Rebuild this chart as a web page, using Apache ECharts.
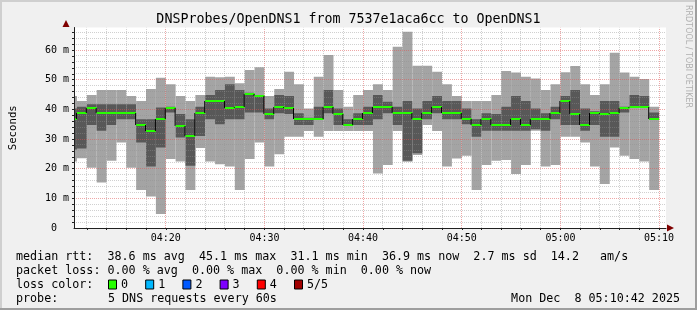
<!DOCTYPE html>
<html><head><meta charset="utf-8">
<script src="https://cdn.jsdelivr.net/npm/echarts@6/dist/echarts.min.js"></script>
<style>html,body{margin:0;padding:0;background:#f0f0f0}#c{width:697px;height:310px}</style>
</head><body><div id="c"></div>
<script>
// minutes after 04:00 at which each 1-minute bin starts
const binStart = [10,11,12,13,14,15,16,17,18,19,20,21,22,23,24,25,26,27,28,29,30,31,32,33,34,35,36,37,38,39,40,41,42,43,44,45,46,47,48,49,50,51,52,53,54,55,56,57,58,59,60,61,62,63,64,65,66,67,68,69];
// sorted pings per bin (ms): fastest .. slowest
const minRtt = [22.4,23.5,20.3,15.3,22.7,28.8,20.3,12.8,10.6,4.7, 23.3,22.4,12.8,27.0,22.4,21.5,20.7,12.8,23.3,28.8, 20.7,24.9,30.8,30.8,32.7,30.8,32.7,32.7,32.7,32.7, 32.7,18.4,21.2,32.7,22.3,24.6,34.7,32.7,20.7,23.4, 24.4,12.8,21.2,22.7,22.9,18.2,21.2,32.8,20.7,21.2, 30.8,30.8,28.8,20.7,14.8,27.1,24.4,23.3,22.4,12.8];
const q1Rtt  = [26.5,26.8,34.7,32.8,34.7,36.7,36.7,28.8,20.7,27.1, 38.9,30.5,21.0,31.0,36.7,35.0,36.7,36.7,38.9,38.9, 36.7,38.7,38.4,34.7,34.7,36.4,38.7,34.7,34.4,34.7, 34.7,36.7,38.7,34.7,22.7,25.2,36.7,38.7,36.7,36.7, 35.0,30.8,32.8,32.8,32.8,32.8,32.8,33.3,32.8,36.7, 34.7,34.7,32.8,34.7,30.8,30.8,38.9,40.6,40.6,36.4];
const medRtt = [36.7,38.9,40.6,38.9,38.9,38.9,38.9,34.7,32.8,36.7, 40.6,34.4,31.1,38.9,42.8,42.8,40.6,40.9,45.1,44.4, 38.4,40.9,40.6,36.7,36.7,36.7,40.9,38.4,34.7,36.7, 38.7,40.9,40.7,38.7,38.7,36.7,38.7,40.7,38.7,38.7, 36.7,34.7,36.7,34.7,34.7,36.7,34.7,36.7,36.7,38.9, 42.8,38.4,34.7,38.9,38.4,38.9,40.6,40.9,40.7,36.9];
const q3Rtt  = [40.3,40.9,41.7,41.7,41.7,41.7,41.7,36.7,36.7,40.6, 40.9,38.4,36.7,40.9,44.8,46.5,48.5,46.5,45.6,44.7, 40.3,44.8,44.5,38.7,37.2,40.9,46.5,40.3,36.7,38.7, 40.9,44.8,42.6,40.9,42.8,40.3,42.8,44.5,42.8,42.8, 40.3,36.7,38.7,38.4,40.9,44.5,42.8,40.3,38.7,40.9, 44.5,46.5,40.3,39.4,42.8,42.8,40.9,44.8,44.5,38.9];
const maxRtt = [44.5,42.8,44.8,46.5,46.5,46.5,44.5,42.8,46.9,50.7, 48.5,44.5,42.8,44.8,51.0,50.8,51.0,48.8,53.3,54.2, 44.5,46.9,52.7,48.5,40.3,51.0,58.3,46.5,40.9,44.8, 46.5,48.5,46.5,61.1,66.2,54.7,54.7,52.7,48.5,44.5, 42.8,42.8,42.8,44.8,52.9,52.4,51.0,50.4,46.5,48.5, 52.5,54.6,48.5,44.8,48.5,59.1,52.4,51.0,50.2,40.9];
const BIN = 1; // minutes per bin

// axes
const xMin = 10.7, xMax = 70.7;   // 04:10:42 .. 05:10:42
const yMin = 0, yMax = 67.6;
const xGridMinutes = [12,14,16,18,20,22,24,26,28,30,32,34,36,38,40,42,44,46,48,50,52,54,56,58,60,62,64,66,68,70];
const xLabelValues = [20,30,40,50,60,70];
const xLabelTexts  = ['04:20','04:30','04:40','04:50','05:00','05:10'];
const yGridValues  = [2,4,6,8,10,12,14,16,18,20,22,24,26,28,30,32,34,36,38,40,42,44,46,48,50,52,54,56,58,60,62,64,66];
const yLabelValues = [0,10,20,30,40,50,60];
const yLabelTexts  = ['0  ','10 m','20 m','30 m','40 m','50 m','60 m'];

// texts
const titleText = 'DNSProbes/OpenDNS1 from 7537e1aca6cc to OpenDNS1';
const legendLines = [
  'median rtt:  38.6 ms avg  45.1 ms max  31.1 ms min  36.9 ms now  2.7 ms sd  14.2   am/s',
  'packet loss: 0.00 % avg  0.00 % max  0.00 % min  0.00 % now'
];
const lossLabels = ['0','1','2','3','4','5/5'];
const lossColors = ['#26ff00','#00b8ff','#0059ff','#7e00ff','#ff0000','#a10000'];
const probeText = '5 DNS requests every 60s';
const dateText = 'Mon Dec  8 05:10:42 2025';

const MONO = '"DejaVu Sans Mono", monospace';
const chart = echarts.init(document.getElementById('c'), null, {renderer:'canvas'});

const smokeData = binStart.map((s,i)=>[s, minRtt[i], q1Rtt[i], medRtt[i], q3Rtt[i], maxRtt[i]]);
const medData = binStart.map((s,i)=>[s, medRtt[i], i>0 ? medRtt[i-1] : medRtt[i]]);

const graphics = [];
// frame shading
graphics.push({type:'rect', shape:{x:0,y:0,width:697,height:2}, style:{fill:'#cfcfcf'}, silent:true});
graphics.push({type:'rect', shape:{x:0,y:0,width:2,height:310}, style:{fill:'#cfcfcf'}, silent:true});
graphics.push({type:'rect', shape:{x:0,y:308,width:697,height:2}, style:{fill:'#9e9e9e'}, silent:true});
graphics.push({type:'rect', shape:{x:695,y:0,width:2,height:310}, style:{fill:'#9e9e9e'}, silent:true});
// title
graphics.push({type:'text', x:348.5, y:19.5, style:{text:titleText, font:'13.3px '+MONO, fill:'#000', align:'center', verticalAlign:'middle', textAlign:'center', textVerticalAlign:'middle'}});
// watermark
graphics.push({type:'text', x:688, y:5, rotation:-Math.PI/2, style:{text:'RRDTOOL / TOBI OETIKER', font:'8px "DejaVu Sans", sans-serif', fill:'#b0b0b0', align:'left', verticalAlign:'middle', textAlign:'left', textVerticalAlign:'middle'}});
// arrows
graphics.push({type:'polygon', shape:{points:[[62.5,27],[66,20],[69.5,27]]}, style:{fill:'#7f0000'}, z:10});
graphics.push({type:'polygon', shape:{points:[[667,224.5],[674,228],[667,231.5]]}, style:{fill:'#7f0000'}, z:10});
// legend
const rowY = [256.5, 270.5, 284.5, 298.5];
const tstyle = (t, align) => ({text:t, font:'11.7px '+MONO, fill:'#000', align:align||'left', verticalAlign:'middle', textAlign:align||'left', textVerticalAlign:'middle'});
graphics.push({type:'text', x:16, y:rowY[0], style:tstyle(legendLines[0])});
graphics.push({type:'text', x:16, y:rowY[1], style:tstyle(legendLines[1])});
graphics.push({type:'text', x:16, y:rowY[2], style:tstyle('loss color:')});
lossLabels.forEach((lab,i)=>{
  const bx = 108 + i*37.2;
  graphics.push({type:'rect', shape:{x:bx+0.5, y:rowY[2]-4.5, width:8, height:9}, style:{fill:lossColors[i], stroke:'#000', lineWidth:1}});
  graphics.push({type:'text', x:bx+13, y:rowY[2], style:tstyle(lab)});
});
graphics.push({type:'text', x:16, y:rowY[3], style:tstyle('probe:')});
graphics.push({type:'text', x:108, y:rowY[3], style:tstyle(probeText)});
graphics.push({type:'text', x:680, y:rowY[3], style:tstyle(dateText,'right')});

chart.setOption({
  animation:false,
  backgroundColor:'#f0f0f0',
  grid:{left:66, top:27.5, width:600, height:200.5, show:true, backgroundColor:'#ffffff', borderWidth:0},
  xAxis:{type:'value', min:xMin, max:xMax, z:6,
    axisLine:{show:true, onZero:false, lineStyle:{color:'#202020', width:1}},
    axisTick:{show:true, customValues:xGridMinutes, length:2, lineStyle:{color:'#202020'}},
    axisLabel:{customValues:xLabelValues, formatter:v=>{const k=xLabelValues.indexOf(v); return k>=0?xLabelTexts[k]:'';}, fontFamily:MONO, fontSize:10, color:'#000', margin:5},
    splitLine:{show:false}},
  yAxis:{type:'value', min:yMin, max:yMax, z:6,
    name:'Seconds', nameLocation:'middle', nameGap:55, nameRotate:90,
    nameTextStyle:{fontFamily:MONO, fontSize:10.7, color:'#000'},
    axisLine:{show:true, onZero:false, lineStyle:{color:'#202020', width:1}},
    axisTick:{show:true, customValues:yGridValues, length:2, lineStyle:{color:'#202020'}},
    axisLabel:{customValues:yLabelValues, formatter:v=>{const k=yLabelValues.indexOf(v); return k>=0?yLabelTexts[k]:'';}, fontFamily:MONO, fontSize:10, color:'#000', margin:5},
    splitLine:{show:false}},
  graphic:graphics,
  series:[
    {type:'custom', name:'smoke', clip:true, z:2, data:smokeData, encode:{x:0, y:[1,5]},
     renderItem(params, api){
       const s = api.value(0);
       const lo = api.coord([s, api.value(1)]), hi = api.coord([s+BIN, api.value(5)]);
       const a = api.coord([s, api.value(2)]), b = api.coord([s+BIN, api.value(4)]);
       return {type:'group', children:[
         {type:'rect', shape:{x:lo[0], y:hi[1], width:hi[0]-lo[0], height:lo[1]-hi[1]}, style:{fill:'#a4a4a4'}},
         {type:'rect', shape:{x:a[0], y:b[1], width:b[0]-a[0], height:a[1]-b[1]}, style:{fill:'#585858'}}
       ]};
     }},
    {type:'custom', name:'vgrid', clip:true, z:3, silent:true, data:xGridMinutes.map(v=>[v]), encode:{x:0},
     renderItem(params, api){
       const v = api.value(0);
       const p = api.coord([v, yMin]), q = api.coord([v, yMax]);
       const x = Math.floor(p[0]) + 0.5;
       const major = xLabelValues.indexOf(v) >= 0;
       return {type:'line', shape:{x1:x, y1:p[1], x2:x, y2:q[1]}, style:{stroke: major ? 'rgba(222,80,80,0.5)' : 'rgba(143,143,143,0.42)', lineWidth:1, lineDash:[1,1]}};
     }},
    {type:'custom', name:'hgrid', clip:true, z:3, silent:true, data:yGridValues.map(v=>[xMin, v]), encode:{x:0, y:1},
     renderItem(params, api){
       const v = api.value(1);
       const p = api.coord([xMin, v]), q = api.coord([xMax, v]);
       const y = Math.floor(p[1]) + 0.5;
       const major = yLabelValues.indexOf(v) >= 0;
       return {type:'line', shape:{x1:p[0], y1:y, x2:q[0], y2:y}, style:{stroke: major ? 'rgba(222,80,80,0.5)' : 'rgba(143,143,143,0.42)', lineWidth:1, lineDash:[1,1]}};
     }},
    {type:'custom', name:'median', clip:true, z:4, data:medData, encode:{x:0, y:1},
     renderItem(params, api){
       const s = api.value(0);
       const a = api.coord([s, api.value(1)]), b = api.coord([s+BIN, api.value(1)]), p = api.coord([s, api.value(2)]);
       const y = Math.round(a[1]);
       return {type:'group', children:[
         {type:'line', shape:{x1:a[0]-0.5, y1:Math.round(p[1]), x2:a[0]-0.5, y2:y}, style:{stroke:'#000', lineWidth:1}},
         {type:'rect', shape:{x:a[0], y:y-1, width:b[0]-a[0], height:2}, style:{fill:'#26ff00'}}
       ]};
     }}
  ]
});
</script>
</body></html>
